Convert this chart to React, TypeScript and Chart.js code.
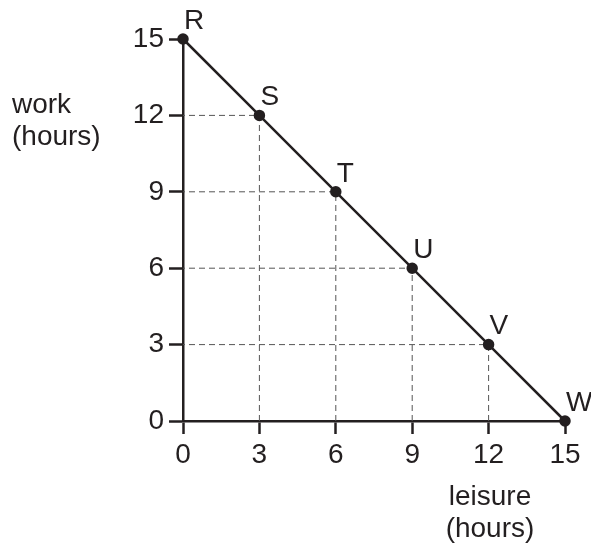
import React, { useEffect, useRef } from "react";
import { Chart, registerables } from "chart.js";

Chart.register(...registerables);

const leisure = [0, 3, 6, 9, 12, 15];
const work = [15, 12, 9, 6, 3, 0];
const pointLabels = ["R", "S", "T", "U", "V", "W"];
const xTitle = ["leisure", "(hours)"];
const yTitle = ["work", "(hours)"];

const INK = "#231f20";
const FONT = "'Liberation Sans', Arial, Helvetica, sans-serif";

export default function App() {
  const ref = useRef<HTMLCanvasElement | null>(null);

  useEffect(() => {
    if (!ref.current) return;

    const mainData = leisure.map((x, i) => ({ x, y: work[i] }));
    const guideSets = leisure
      .map((x, i) => ({ x, y: work[i] }))
      .filter((p) => p.x > 0 && p.y > 0)
      .map((p) => ({
        data: [
          { x: p.x, y: 0 },
          { x: p.x, y: p.y },
          { x: 0, y: p.y },
        ],
        borderColor: "#555",
        borderWidth: 1,
        borderDash: [6, 4],
        pointRadius: 0,
        clip: false as const,
        order: 2,
      }));

    const labelPlugin = {
      id: "labels",
      afterDatasetsDraw(chart: any) {
        const ctx = chart.ctx;
        const meta = chart.getDatasetMeta(guideSets.length);
        ctx.save();
        ctx.fillStyle = INK;
        ctx.font = `28px ${FONT}`;
        ctx.textAlign = "left";
        ctx.textBaseline = "middle";
        meta.data.forEach((pt: any, i: number) => {
          ctx.fillText(pointLabels[i], pt.x + 1, pt.y - 18);
        });
        // axis titles
        ctx.font = `28px ${FONT}`;
        ctx.textBaseline = "alphabetic";
        ctx.textAlign = "left";
        ctx.fillText(yTitle[0], 12, 113);
        ctx.fillText(yTitle[1], 12, 145);
        ctx.textAlign = "center";
        ctx.fillText(xTitle[0], 490, 505);
        ctx.fillText(xTitle[1], 490, 537);
        ctx.restore();
      },
    };

    const chart = new Chart(ref.current, {
      type: "line",
      data: {
        datasets: [
          ...guideSets,
          {
            data: mainData,
            borderColor: INK,
            borderWidth: 2.5,
            pointRadius: 4.5,
            pointBackgroundColor: INK,
            pointBorderColor: INK,
            clip: false as const,
            order: 1,
          },
        ],
      },
      options: {
        responsive: false,
        animation: false,
        events: [],
        layout: { padding: { left: 0, top: 39, right: 26, bottom: 76 } },
        plugins: { legend: { display: false }, tooltip: { enabled: false } },
        scales: {
          x: {
            type: "linear",
            min: 0,
            max: 15,
            afterFit: (s: any) => {
              s.height = 50;
            },
            ticks: { stepSize: 3, color: INK, font: { family: FONT, size: 28 }, padding: 4, maxRotation: 0 },
            grid: { drawOnChartArea: false, drawTicks: true, tickLength: 13, tickWidth: 2.5, tickColor: INK },
            border: { display: true, color: INK, width: 2.5 },
          },
          y: {
            type: "linear",
            min: 0,
            max: 15,
            afterFit: (s: any) => {
              s.width = 183;
            },
            ticks: { stepSize: 3, color: INK, font: { family: FONT, size: 28 }, padding: 5 },
            grid: { drawOnChartArea: false, drawTicks: true, tickLength: 14, tickWidth: 2.5, tickColor: INK },
            border: { display: true, color: INK, width: 2.5 },
          },
        },
      },
      plugins: [labelPlugin],
    });
    return () => chart.destroy();
  }, []);

  return (
    <div style={{ position: "fixed", left: 0, top: 0, width: 591, height: 547, background: "#fff" }}>
      <canvas ref={ref} width={591} height={547} />
    </div>
  );
}
